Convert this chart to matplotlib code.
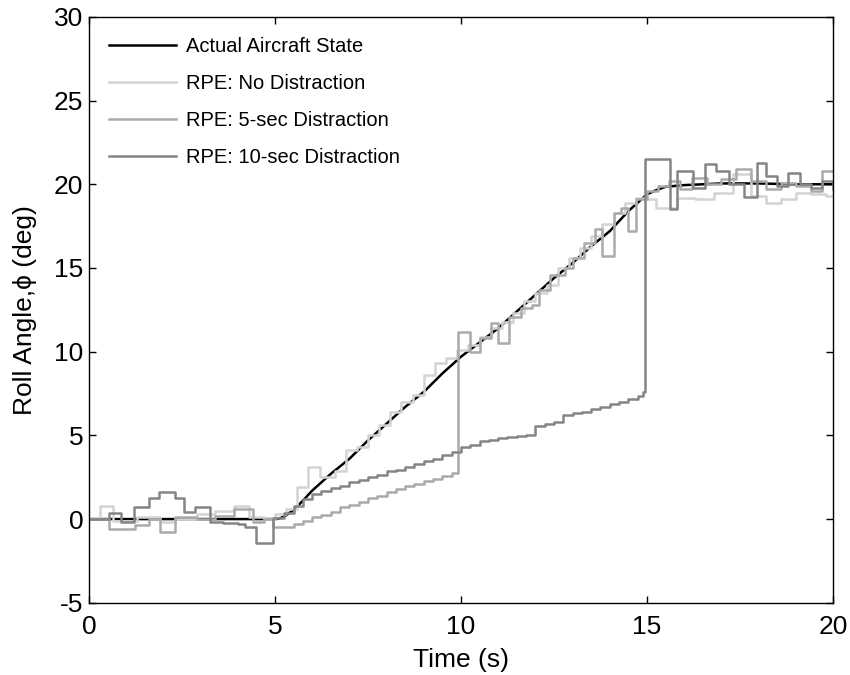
import matplotlib.pyplot as plt

# Actual aircraft state (smooth)
act_t = [0.0, 5.0, 5.1, 5.25, 5.5, 5.75, 6.0, 6.5, 7.0, 7.5, 8.0, 8.5, 9.0, 9.5, 10.0,
         10.5, 11.0, 11.5, 12.0, 12.5, 13.0, 13.5, 14.0, 14.5, 15.0, 15.25, 15.5,
         16.0, 17.0, 18.0, 19.0, 20.0]
act_v = [0.0, 0.0, 0.02, 0.15, 0.55, 1.1, 1.7, 2.7, 3.6, 4.7, 5.7, 6.7, 7.6, 8.7, 9.7,
         10.55, 11.4, 12.4, 13.4, 14.4, 15.3, 16.3, 17.2, 18.4, 19.4, 19.65, 19.85,
         19.95, 20.05, 20.05, 20.0, 20.0]

# RPE: no distraction (sample and hold)
nd_t = [0.0, 0.3, 0.65, 1.3, 1.9, 2.3, 2.9, 3.4, 3.9, 4.3, 4.7, 5.0, 5.3, 5.6, 5.9,
        6.2, 6.6, 6.9, 7.2, 7.5, 7.8, 8.1, 8.4, 8.7, 9.0, 9.3, 9.6, 9.9, 10.2, 10.5,
        10.8, 11.1, 11.4, 11.7, 12.0, 12.3, 12.6, 12.9, 13.2, 13.5, 13.8, 14.1, 14.4,
        14.7, 15.0, 15.25, 15.8, 16.3, 16.8, 17.3, 17.8, 18.2, 18.6, 19.0, 19.4, 19.8, 20.0]
nd_v = [0.0, 0.8, -0.1, 0.1, -0.2, 0.0, 0.3, 0.5, 0.8, 0.1, 0.0, 0.3, 0.6, 1.9, 3.1,
        2.5, 2.9, 4.1, 4.3, 5.0, 5.6, 6.4, 7.0, 7.4, 8.6, 9.3, 9.6, 10.1, 10.4, 10.9,
        11.4, 11.8, 12.3, 13.0, 13.5, 14.0, 15.0, 15.6, 16.2, 16.9, 17.6, 18.3, 18.9,
        19.2, 19.1, 18.6, 19.2, 19.1, 19.5, 20.6, 19.3, 18.9, 19.1, 19.5, 19.4, 19.3, 19.3]

# RPE: 5-sec distraction
fs_t = [0.0, 0.55, 1.25, 1.6, 1.9, 2.3, 2.9, 3.4, 3.9, 4.4, 4.7, 4.95, 5.25, 5.5, 5.75,
        6.0, 6.25, 6.5, 6.75, 7.0, 7.25, 7.5, 7.75, 8.0, 8.25, 8.5, 8.75, 9.0, 9.25,
        9.5, 9.75, 9.93, 10.25, 10.5, 10.8, 11.0, 11.3, 11.6, 11.9, 12.1, 12.4, 12.8,
        13.0, 13.3, 13.6, 13.8, 14.1, 14.3, 14.5, 14.7, 15.0, 15.3, 15.6, 15.9, 16.2,
        16.6, 17.0, 17.4, 17.8, 18.2, 18.6, 19.0, 19.4, 19.7, 20.0]
fs_v = [0.0, -0.6, -0.35, 0.0, -0.8, 0.1, 0.0, 0.2, 0.6, -0.2, 0.0, -0.5, -0.45, -0.3,
        -0.1, 0.1, 0.25, 0.45, 0.7, 0.85, 1.0, 1.25, 1.4, 1.6, 1.8, 1.95, 2.1, 2.25, 2.4,
        2.55, 2.75, 11.2, 10.0, 10.8, 11.7, 10.5, 12.1, 12.6, 12.8, 13.7, 14.6, 15.0,
        15.6, 16.5, 17.3, 15.7, 18.3, 18.6, 17.2, 19.1, 19.6, 19.9, 20.2, 19.7, 20.4,
        20.0, 20.3, 20.9, 20.2, 19.7, 20.1, 19.9, 19.6, 20.8, 20.8]

# RPE: 10-sec distraction
ts_t = [0.0, 0.55, 0.85, 1.2, 1.62, 1.89, 2.3, 2.55, 2.85, 3.25, 3.6, 4.0, 4.2, 4.5,
        4.95, 5.25, 5.5, 5.75, 6.0, 6.25, 6.5, 6.75, 7.0, 7.25, 7.5, 7.75, 8.0, 8.25,
        8.5, 8.75, 9.0, 9.25, 9.5, 9.75, 10.0, 10.25, 10.5, 10.75, 11.0, 11.25, 11.5,
        11.75, 12.0, 12.25, 12.5, 12.75, 13.0, 13.25, 13.5, 13.75, 14.0, 14.25, 14.5,
        14.75, 14.9, 14.95, 15.62, 15.8, 16.25, 16.55, 16.85, 17.2, 17.6, 17.95, 18.2,
        18.5, 18.8, 19.1, 19.4, 19.7, 20.0]
ts_v = [0.0, 0.35, -0.2, 0.7, 1.25, 1.6, 1.25, 0.4, 0.75, -0.2, -0.25, -0.3, -0.5, -1.45,
        0.05, 0.35, 0.8, 1.2, 1.5, 1.7, 1.85, 2.0, 2.2, 2.35, 2.5, 2.65, 2.85, 2.95,
        3.1, 3.3, 3.45, 3.6, 3.8, 4.0, 4.3, 4.45, 4.65, 4.7, 4.85, 4.9, 4.95,
        5.0, 5.55, 5.65, 5.8, 6.2, 6.35, 6.4, 6.55, 6.7, 6.85, 7.0, 7.15,
        7.35, 7.6, 21.5, 18.5, 20.8, 19.8, 21.2, 20.8, 20.0, 19.25, 21.3, 20.5,
        19.9, 20.7, 20.0, 19.8, 20.2, 19.7]

plt.rcParams['font.family'] = ['Liberation Sans', 'DejaVu Sans']
plt.rcParams['axes.unicode_minus'] = False

fig = plt.figure(figsize=(8.5, 6.75), dpi=100)
ax = fig.add_axes([0.1047, 0.107, 0.8753, 0.868])

ax.plot(act_t, act_v, color='black', lw=1.8, label='Actual Aircraft State')
ax.plot(nd_t, nd_v, color='#d3d3d3', lw=1.8, drawstyle='steps-post', label='RPE: No Distraction')
ax.plot(fs_t, fs_v, color='#aaaaaa', lw=1.8, drawstyle='steps-post', label='RPE: 5-sec Distraction')
ax.plot(ts_t, ts_v, color='#858585', lw=1.8, drawstyle='steps-post', label='RPE: 10-sec Distraction')

ax.set_xlim(0, 20)
ax.set_ylim(-5, 30)
ax.set_xticks([0, 5, 10, 15, 20])
ax.set_yticks([-5, 0, 5, 10, 15, 20, 25, 30])
ax.tick_params(direction='in', top=True, right=True, labelsize=19, length=5, width=1)
ax.tick_params(axis='x', pad=8.5)
ax.tick_params(axis='y', pad=4)
for s in ax.spines.values():
    s.set_linewidth(1.0)

ax.set_xlabel('Time (s)', fontsize=19, labelpad=7)
ax.set_ylabel('Roll Angle,ϕ (deg)', fontsize=19, labelpad=12)

ax.legend(loc='upper left', frameon=False, fontsize=14.5, handlelength=3.3,
          handletextpad=0.5, labelspacing=0.9, borderaxespad=0.6)

fig.savefig('out.png', dpi=100)
